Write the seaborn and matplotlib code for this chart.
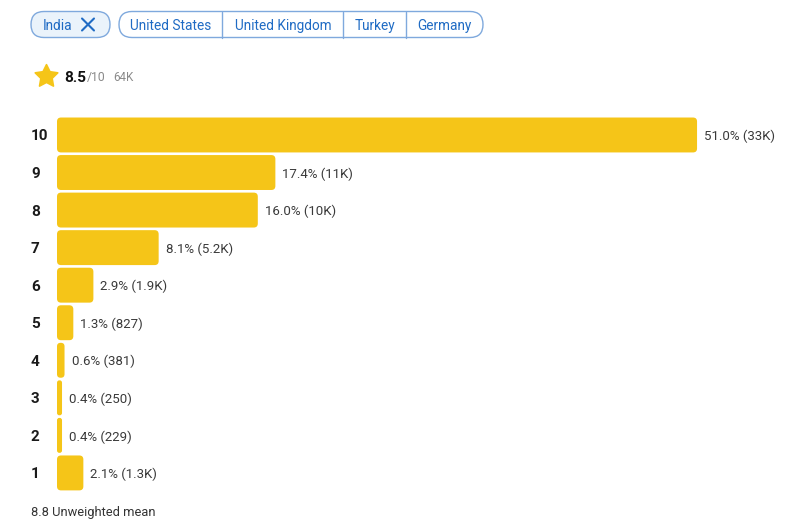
import matplotlib
matplotlib.use('Agg')
import matplotlib.pyplot as plt
from matplotlib.patches import FancyBboxPatch
from matplotlib.path import Path
from matplotlib.transforms import IdentityTransform
import numpy as np
import pandas as pd
import seaborn as sns

ratings = ['10', '9', '8', '7', '6', '5', '4', '3', '2', '1']
shares = [51.0, 17.4, 16.0, 8.1, 2.9, 1.3, 0.6, 0.4, 0.4, 2.1]
bar_labels = ['51.0% (33K)', '17.4% (11K)', '16.0% (10K)', '8.1% (5.2K)', '2.9% (1.9K)',
              '1.3% (827)', '0.6% (381)', '0.4% (250)', '0.4% (229)', '2.1% (1.3K)']
selected_country = 'India'
other_countries = ['United States', 'United Kingdom', 'Turkey', 'Germany']
chip_centers = [170.5, 283, 374.5, 444.5]
chip_dividers = [222, 343, 406]
mean_score = '8.5'
mean_scale = '/10'
vote_count = '64K'
unweighted = '8.8 Unweighted mean'

YELLOW = '#F5C518'
BLUE = '#1F6BC4'
EDGE = '#7FA9DD'
W, H = 800, 527

sns.set_theme(style='white')
plt.rcParams['font.family'] = ['Roboto', 'DejaVu Sans']

fig = plt.figure(figsize=(8, 5.27), dpi=100)
top, bottom = 116.2, 491.7
ax = fig.add_axes([57 / W, 1 - bottom / H, (W - 57) / W, (bottom - top) / H])

df = pd.DataFrame({'rating': ratings, 'share': shares})
sns.barplot(data=df, x='share', y='rating', color=YELLOW, saturation=1, width=0.93, ax=ax)
ax.set_xlim(0, (W - 57) / 12.55)
ax.set_ylim(9.5, -0.5)
ax.set_xlabel('')
ax.set_ylabel('')
ax.set_xticks([])
sns.despine(ax=ax, left=True, bottom=True)

# swap the square bars for rounded ones, same geometry, in display pixels
for bar, label in zip(list(ax.patches), bar_labels):
    (x0, y0), (x1, y1) = ax.transData.transform(bar.get_bbox().get_points())
    y0, y1 = min(y0, y1), max(y0, y1)
    r = min(4.0, (x1 - x0) / 2 - 0.2)
    ax.add_patch(FancyBboxPatch((x0 + r, y0 + r), x1 - x0 - 2 * r, y1 - y0 - 2 * r,
                                boxstyle=f'round,pad={r},rounding_size={r}',
                                transform=IdentityTransform(), linewidth=0,
                                facecolor=YELLOW))
    bar.set_visible(False)
    ax.annotate(label, (bar.get_width(), bar.get_y() + bar.get_height() / 2),
                xytext=(7, 0), textcoords='offset pixels',
                va='center_baseline', ha='left', fontsize=9.5, color='#3a3a3a')

ax.tick_params(axis='y', length=0, pad=0)
ax.set_yticks(range(10))
ax.set_yticklabels(ratings, fontsize=11, fontweight='bold', color='#1a1a1a', ha='left')
for tick in ax.get_yticklabels():
    tick.set_x(-26 / (W - 57))

# header drawn on a pixel overlay
ov = fig.add_axes([0, 0, 1, 1], zorder=5)
ov.set_xlim(0, W)
ov.set_ylim(H, 0)
ov.axis('off')
ov.patch.set_alpha(0)


def chip(x0, x1, face):
    y0, y1 = 11.5, 37.5
    r = 13
    ov.add_patch(FancyBboxPatch((x0 + r, y0 + r), x1 - x0 - 2 * r, y1 - y0 - 2 * r,
                                boxstyle=f'round,pad={r},rounding_size={r}',
                                facecolor=face, edgecolor=EDGE, linewidth=1))


chip(31, 110, '#EAF3FB')
chip(119, 483, 'white')
for d in chip_dividers:
    ov.plot([d, d], [11.5, 37.5], color=EDGE, lw=1)

ov.text(43, 24.5, selected_country, color=BLUE, fontsize=9.8, va='center_baseline', ha='left')
ov.plot([82, 94], [18.5, 30.5], color=BLUE, lw=1.5)
ov.plot([82, 94], [30.5, 18.5], color=BLUE, lw=1.5)
for name, cx in zip(other_countries, chip_centers):
    ov.text(cx, 24.5, name, color=BLUE, fontsize=9.8, va='center_baseline', ha='center')

# fat star, same shape as the reference icon
angles = np.pi / 2 + np.arange(10) * np.pi / 5
radii = np.tile([1.0, 0.5], 5)
star_xy = np.column_stack([radii * np.cos(angles), radii * np.sin(angles)])
star = Path(np.vstack([star_xy, star_xy[0]]), closed=True)
ov.scatter([45.5], [76], marker=star, s=290, color=YELLOW, linewidths=1.2,
           edgecolors=YELLOW, joinstyle='round')

ov.text(64.5, 76, mean_score, fontsize=11, fontweight='bold', color='#111111',
        va='center_baseline', ha='left')
ov.text(87, 76, mean_scale, fontsize=8.8, color='#8a8a8a', va='center_baseline', ha='left')
ov.text(113, 76, vote_count, fontsize=8.4, color='#8a8a8a', va='center_baseline', ha='left')
ov.text(31, 511, unweighted, fontsize=9.3, color='#333333', va='center_baseline', ha='left')

fig.savefig('out.png', dpi=100, facecolor='white')
